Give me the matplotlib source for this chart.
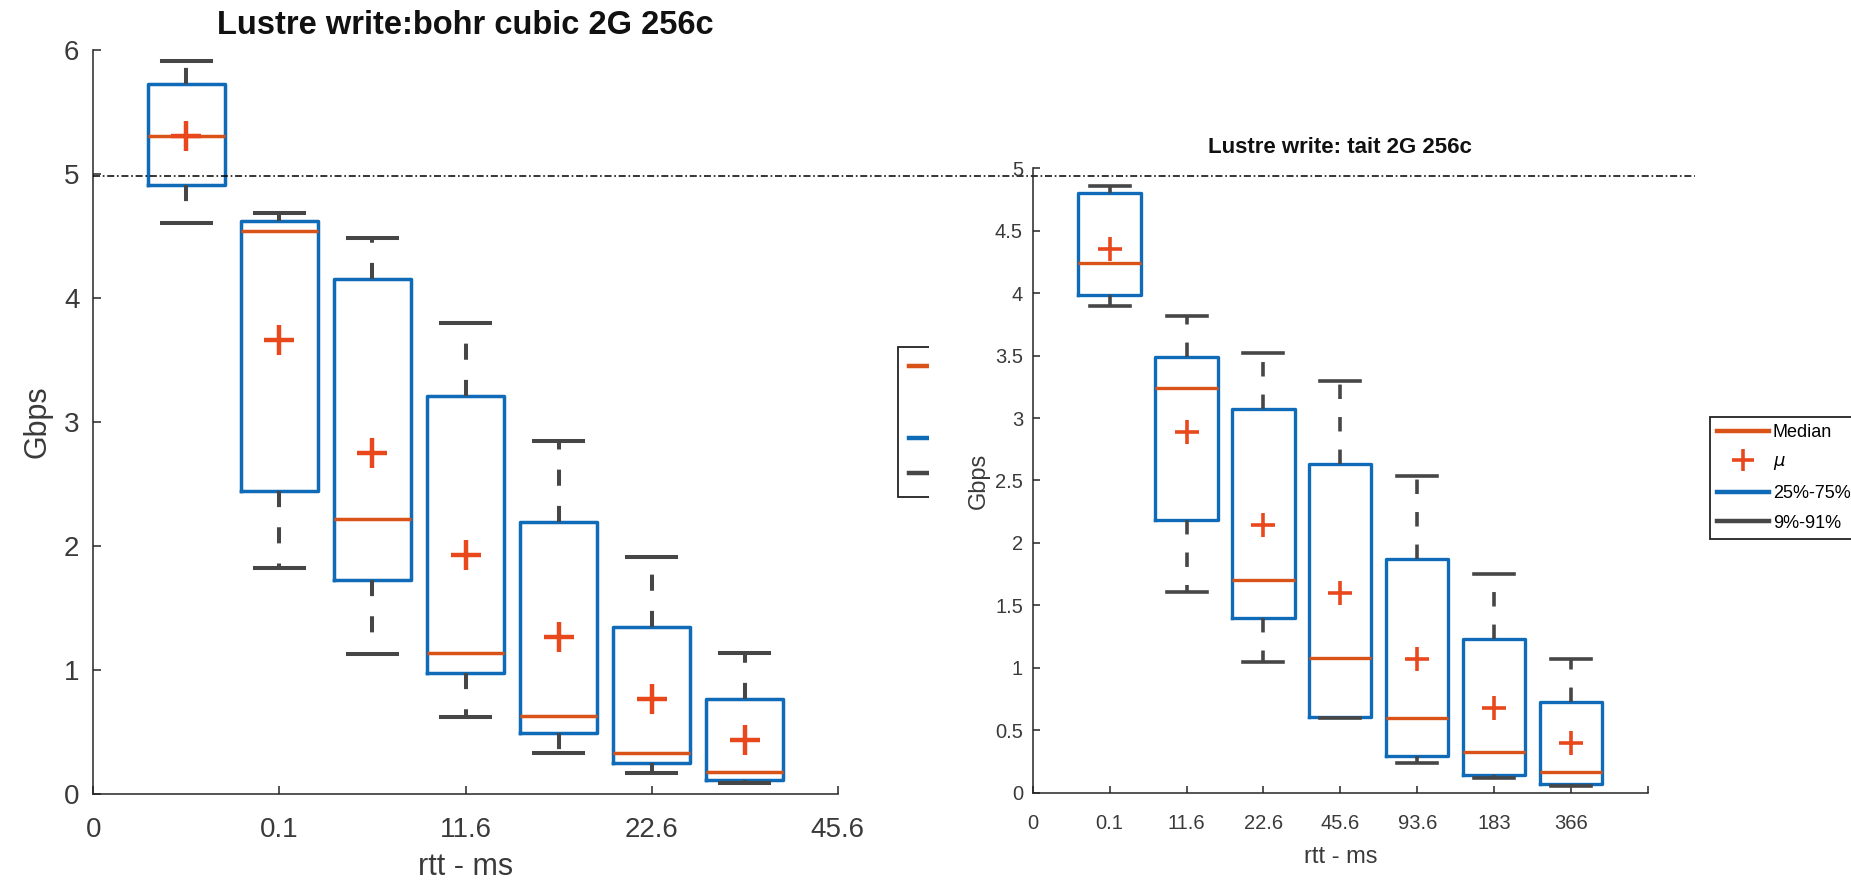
import numpy as np
import matplotlib
matplotlib.use('Agg')
import matplotlib.pyplot as plt
from matplotlib.lines import Line2D
from matplotlib.patches import Rectangle

plt.rcParams['font.family'] = ['Liberation Sans', 'DejaVu Sans']

# ---------------- data ----------------
left_title = 'Lustre write:bohr cubic 2G 256c'
left_xticklabels = ['0', '0.1', '11.6', '22.6', '45.6']
left_p9 = [4.60, 1.82, 1.13, 0.625, 0.33, 0.17, 0.09]
left_q1 = [4.91, 2.44, 1.73, 0.98, 0.49, 0.25, 0.115]
left_med = [5.30, 4.54, 2.22, 1.135, 0.63, 0.33, 0.18]
left_q3 = [5.72, 4.62, 4.15, 3.21, 2.195, 1.35, 0.77]
left_p91 = [5.91, 4.68, 4.48, 3.80, 2.85, 1.91, 1.14]
left_mean = [5.30, 3.66, 2.75, 1.93, 1.264, 0.77, 0.44]

right_title = 'Lustre write: tait 2G 256c'
right_xticklabels = ['0', '0.1', '11.6', '22.6', '45.6', '93.6', '183', '366', '']
right_p9 = [3.90, 1.61, 1.05, 0.60, 0.24, 0.115, 0.054]
right_q1 = [3.985, 2.18, 1.40, 0.61, 0.295, 0.142, 0.067]
right_med = [4.245, 3.243, 1.70, 1.08, 0.60, 0.324, 0.163]
right_q3 = [4.80, 3.49, 3.075, 2.63, 1.87, 1.23, 0.73]
right_p91 = [4.855, 3.82, 3.52, 3.30, 2.54, 1.755, 1.072]
right_mean = [4.35, 2.887, 2.14, 1.60, 1.07, 0.677, 0.396]

legend_labels = ['Median', r'$\mu$', '25%-75%', '9%-91%']
ref_level = 4.98
x_label = 'rtt - ms'
y_label = 'Gbps'

# ---------------- style ----------------
ORANGE = '#D95319'
PLUS = '#E8481C'
BLUE = '#0F6BB8'
GRAY = '#464646'
AXC = '#262626'
TXT = '#3a3a3a'

W, H = 1851, 886
fig = plt.figure(figsize=(W / 100, H / 100), dpi=100)


def px_axes(l, t, r, b):
    return fig.add_axes([l / W, 1 - b / H, (r - l) / W, (b - t) / H])


def make_stats(p9, q1, med, q3, p91, mean):
    return [dict(whislo=a, q1=b, med=c, q3=d, whishi=e, mean=f)
            for a, b, c, d, e, f in zip(p9, q1, med, q3, p91, mean)]


def draw_boxes(ax, stats, positions, width, capwidth, psize, pmew, lwb, lww):
    ax.bxp(stats, positions=positions, widths=width, capwidths=capwidth,
           showmeans=True, showfliers=False, manage_ticks=False,
           boxprops=dict(color=BLUE, linewidth=lwb),
           medianprops=dict(color=ORANGE, linewidth=lwb),
           whiskerprops=dict(color=GRAY, linewidth=lww, linestyle=(0, (4.0, 5.0))),
           capprops=dict(color=GRAY, linewidth=lww),
           meanprops=dict(marker='+', markeredgecolor=PLUS, markerfacecolor=PLUS,
                          markersize=psize, markeredgewidth=pmew, linestyle='none'))


def style_axes(ax, ticklen, xpad, ypad, fs):
    for s in ('top', 'right'):
        ax.spines[s].set_visible(False)
    for s in ('left', 'bottom'):
        ax.spines[s].set_color(AXC)
        ax.spines[s].set_linewidth(1.1)
    ax.tick_params(direction='in', color=AXC, labelcolor=TXT, width=1.1,
                   length=ticklen, labelsize=fs)
    ax.tick_params(axis='x', pad=xpad)
    ax.tick_params(axis='y', pad=ypad)


def legend_handles(msize, mew):
    return [Line2D([], [], color=ORANGE, lw=3.2),
            Line2D([], [], color=PLUS, marker='+', linestyle='none',
                   markersize=msize, markeredgewidth=mew),
            Line2D([], [], color=BLUE, lw=3.2),
            Line2D([], [], color=GRAY, lw=3.2)]


# ---------------- left plot ----------------
axL = px_axes(93.3, 49.5, 837.7, 794.3)
n = len(left_med)
posL = 0.5 + 0.5 * np.arange(n)
draw_boxes(axL, make_stats(left_p9, left_q1, left_med, left_q3, left_p91, left_mean),
           posL, 0.417, 0.263, 21, 3.2, 2.5, 2.9)
axL.set_xlim(0, len(left_xticklabels) - 1)
axL.set_ylim(0, 6)
axL.set_xticks(np.arange(len(left_xticklabels)))
axL.set_xticklabels(left_xticklabels)
axL.set_yticks(np.arange(0, 7))
style_axes(axL, 6, 16, 10, 20)
axL.set_title(left_title, fontsize=23.5, fontweight='bold', pad=11.5, color='#111111')
axL.set_xlabel(x_label, fontsize=22, color=TXT, labelpad=7)
axL.set_ylabel(y_label, fontsize=22, color=TXT, labelpad=8.5)

# left legend: only its left edge is visible, the rest lies under the right panel
legL = axL.legend(legend_handles(20, 3.0), ['', '', '', ''], loc='upper left',
                  bbox_to_anchor=(898 / W, 1 - 347 / H), bbox_transform=fig.transFigure,
                  borderaxespad=0, fontsize=16, labelspacing=0.66, borderpad=0.5,
                  handlelength=3.6, handletextpad=0.3, fancybox=False, framealpha=1,
                  edgecolor='#222222')
legL.get_frame().set_linewidth(1.3)

# the right panel covers part of the left legend
cover = Rectangle((929 / W, 0), 1 - 929 / W, 1, transform=fig.transFigure,
                  facecolor='white', edgecolor='none', zorder=5.5, clip_on=False)
axL.add_artist(cover)

axL.axhline(ref_level, xmin=0, xmax=2.152, color='black', lw=1.1,
            linestyle=(0, (4.6, 1.8, 1.1, 1.8)), clip_on=False, zorder=6)

# ---------------- right plot ----------------
axR = px_axes(1032.7, 168.3, 1648.0, 792.7)
axR.set_facecolor('none')
m = len(right_med)
posR = 1 + np.arange(m)
draw_boxes(axR, make_stats(right_p9, right_q1, right_med, right_q3, right_p91, right_mean),
           posR, 0.81, 0.52, 17, 2.6, 2.4, 2.6)
axR.set_xlim(0, len(right_xticklabels) - 1)
axR.set_ylim(0, 5)
axR.set_xticks(np.arange(len(right_xticklabels)))
axR.set_xticklabels(right_xticklabels)
axR.set_yticks(np.arange(0, 5.01, 0.5))
axR.set_yticklabels(['0', '0.5', '1', '1.5', '2', '2.5', '3', '3.5', '4', '4.5', '5'])
style_axes(axR, 5, 15, 7, 14.5)
axR.set_title(right_title, fontsize=16, fontweight='bold', pad=10.8, color='#111111')
axR.set_xlabel(x_label, fontsize=17, color=TXT, labelpad=10)
axR.set_ylabel(y_label, fontsize=17, color=TXT, labelpad=4)

legR = axR.legend(legend_handles(16, 2.6), legend_labels, loc='upper left',
                  bbox_to_anchor=(1710 / W, 1 - 417 / H), bbox_transform=fig.transFigure,
                  borderaxespad=0, fontsize=13, labelspacing=0.7, borderpad=0.38,
                  handlelength=2.9, handletextpad=0.2, fancybox=False, framealpha=1,
                  edgecolor='#222222')
legR.get_frame().set_linewidth(1.3)

fig.savefig('out.png', dpi=100)
